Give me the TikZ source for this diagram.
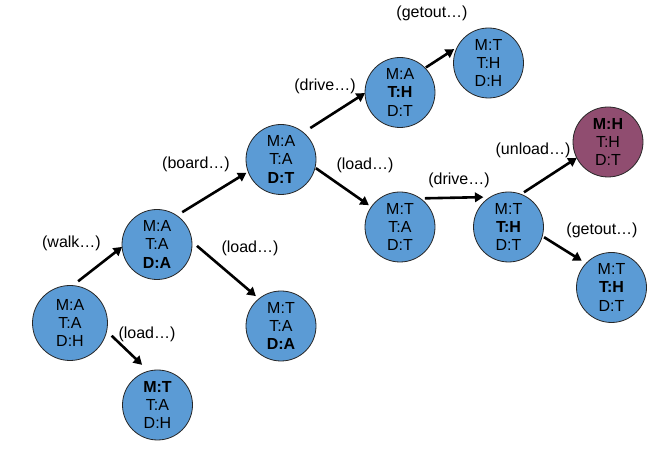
\documentclass[tikz,border=0pt]{standalone}
\usepackage{fontspec}
\setmainfont{Liberation Sans}
\usetikzlibrary{arrows.meta}
\definecolor{stateblue}{HTML}{5B9BD5}
\definecolor{goalplum}{HTML}{904D70}
\begin{document}
\begin{tikzpicture}[x=1pt,y=1pt,
  state/.style={circle,draw=black!85,line width=0.8pt,fill=stateblue,
    minimum size=70pt,inner sep=0pt,outer sep=0pt,align=center,
    font=\fontsize{16}{18.3}\selectfont},
  goal/.style={state,fill=goalplum},
  act/.style={font=\fontsize{16}{18}\selectfont,inner sep=0pt},
  arr/.style={line width=2.6pt,-{Triangle[length=8.5pt,width=9.5pt]}}]
\useasboundingbox (0,0) rectangle (659,462);

% states: M = ..., T = ..., D = ...
\node[state,minimum size=75pt] (n1) at (70,139)    {M:A\\T:A\\D:H};
\node[state] (n2)  at (157,217.5) {M:A\\T:A\\\textbf{D:A}};
\node[state] (n3)  at (157.5,57)  {\textbf{M:T}\\T:A\\D:H};
\node[state] (n4)  at (281,136)   {M:T\\T:A\\\textbf{D:A}};
\node[state] (n5)  at (281,302.5) {M:A\\T:A\\\textbf{D:T}};
\node[state] (n6)  at (400,369.5) {M:A\\\textbf{T:H}\\D:T};
\node[state] (n7)  at (488.5,399) {M:T\\T:H\\D:H};
\node[state] (n8)  at (400,235)   {M:T\\T:A\\D:T};
\node[state] (n9)  at (508.5,235) {M:T\\\textbf{T:H}\\D:T};
\node[goal]  (n10) at (608,320)   {\textbf{M:H}\\T:H\\D:T};
\node[state] (n11) at (611.5,174.5) {M:T\\\textbf{T:H}\\D:T};

% actions
\node[act] (lwalk)    at (71.5,219) {(walk…)};
\node[act] (lload1)   at (147,128)  {(load…)};
\node[act] (lboard)   at (196,298)  {(board…)};
\node[act] (lload2)   at (250,214)  {(load…)};
\node[act] (ldrive1)  at (325,376)  {(drive…)};
\node[act] (lgetout1) at (432,449)  {(getout…)};
\node[act] (lload3)   at (365,297)  {(load…)};
\node[act] (ldrive2)  at (459,282)  {(drive…)};
\node[act] (lunload)  at (533,312)  {(unload…)};
\node[act] (lgetout2) at (602,232)  {(getout…)};

% transitions
\draw[arr] ([shift={(79:5pt)}]n1.79)    -- ([shift={(184:0pt)}]n2.184);
\draw[arr] ([shift={(-17:6pt)}]n1.-17)  -- ([shift={(111:8pt)}]n3.111);
\draw[arr] ([shift={(52:6pt)}]n2.52)    -- ([shift={(201:2pt)}]n5.201);
\draw[arr] ([shift={(-2:5pt)}]n2.-2)    -- ([shift={(130:4pt)}]n4.130);
\draw[arr] ([shift={(47:8pt)}]n5.47)    -- ([shift={(181:0pt)}]n6.181);
\draw[arr] ([shift={(44:1pt)}]n6.44)    -- ([shift={(158:2pt)}]n7.158);
\draw[arr] ([shift={(-14:1pt)}]n5.-14)  -- ([shift={(145:3pt)}]n8.145);
\draw[arr] ([shift={(49:3pt)}]n8.49)    -- ([shift={(130:4pt)}]n9.130);
\draw[arr] ([shift={(66:3pt)}]n9.66)    -- ([shift={(207:0pt)}]n10.207);
\draw[arr] ([shift={(-16:2pt)}]n9.-16)  -- ([shift={(138:5pt)}]n11.138);
\end{tikzpicture}
\end{document}
